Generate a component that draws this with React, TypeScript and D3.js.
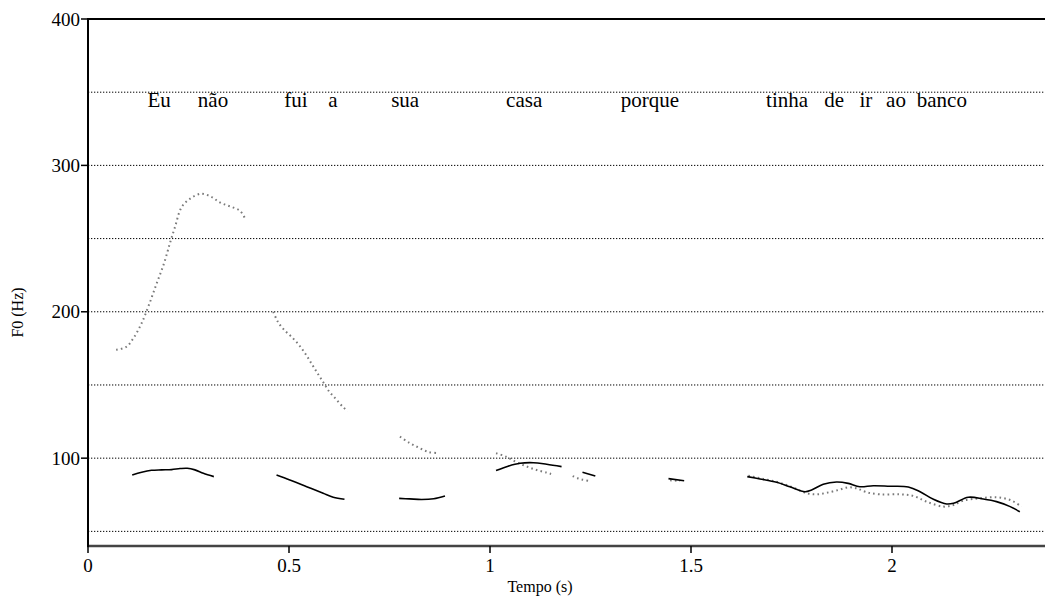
import React from "react";
import * as d3 from "d3";

type Pt = [number, number];

const yTicks = [100, 200, 300, 400];
const gridValues = [50, 100, 150, 200, 250, 300, 350];
const xTicks = [0, 0.5, 1, 1.5, 2];
const xTickLabels = ["0", "0.5", "1", "1.5", "2"];

const words = ["Eu", "não", "fui", "a", "sua", "casa", "porque", "tinha", "de", "ir", "ao", "banco"];
const wordTimes = [0.177, 0.311, 0.517, 0.609, 0.789, 1.085, 1.398, 1.739, 1.856, 1.935, 2.01, 2.124];
const wordF0 = 340;

// dotted (grey) contour
const dotted1: Pt[] = [[0.07,174],[0.095,176],[0.113,182],[0.133,192],[0.152,205],[0.171,219.5],[0.189,233],[0.204,247],[0.2165,258],[0.233,271.5],[0.256,277.6],[0.281,280.6],[0.305,278.8],[0.328,274.7],[0.353,272],[0.378,269],[0.392,263]];
const dotted2: Pt[] = [[0.461,200],[0.472,193.3],[0.488,187.6],[0.508,182.4],[0.526,176.9],[0.5415,171],[0.5565,164.4],[0.5705,158.2],[0.5853,151.9],[0.5995,145.7],[0.617,140.3],[0.635,134.8],[0.646,132.1]];
const dotted3: Pt[] = [[0.776,114.7],[0.7985,110.6],[0.8226,107.2],[0.8475,104.2],[0.874,103.4]];
const dotted4: Pt[] = [[1.015,103.4],[1.04,101],[1.065,97.4],[1.0895,94.5],[1.116,91.9],[1.141,90.1],[1.152,89.2]];
const dotted5: Pt[] = [[1.2057,87.8],[1.218,86.3],[1.2306,85.3],[1.2445,84.6]];
const dotted6: Pt[] = [[1.448,84.9],[1.473,84.4]];
const dotted7: Pt[] = [[1.6426,88],[1.68,85.8],[1.717,83.5],[1.7545,79.9],[1.788,76],[1.813,75.3],[1.838,76.4],[1.867,78.3],[1.891,80.1],[1.912,79.4],[1.937,76.7],[1.97,75.3],[2.02,75.3],[2.053,74.2],[2.086,70.3],[2.128,66.9],[2.153,68],[2.178,71],[2.219,72.6],[2.26,73.3],[2.294,71.4],[2.3226,66.9]];

// solid (black) contour
const solid1: Pt[] = [[0.11,88.5],[0.1335,90.4],[0.158,91.7],[0.183,92],[0.208,92.2],[0.229,92.9],[0.247,93.1],[0.266,92],[0.287,89.7],[0.313,87.4]];
const solid2: Pt[] = [[0.469,88.5],[0.502,85.1],[0.544,80.5],[0.585,76],[0.61,73.3],[0.638,71.9]];
const solid3: Pt[] = [[0.774,72.5],[0.8,72.2],[0.83,71.8],[0.86,72.3],[0.888,74.2]];
const solid4: Pt[] = [[1.015,91.5],[1.045,94.5],[1.0746,96.5],[1.108,96.9],[1.141,95.8],[1.178,94.2]];
const solid5: Pt[] = [[1.23,90.4],[1.262,87.8]];
const solid6: Pt[] = [[1.444,86],[1.483,84.6]];
const solid7: Pt[] = [[1.64,87.4],[1.6716,85.8],[1.713,83.5],[1.746,80.5],[1.7836,77.1],[1.8,78.3],[1.829,82.2],[1.862,83.7],[1.891,82.8],[1.92,80.5],[1.9535,81.2],[1.995,80.8],[2.0406,80.3],[2.07,77.1],[2.103,71.9],[2.136,68.7],[2.153,69.2],[2.19,73.3],[2.227,72.1],[2.26,70.3],[2.294,66.9],[2.318,63.4]];

const dottedSegments = [dotted1, dotted2, dotted3, dotted4, dotted5, dotted6, dotted7];
const solidSegments = [solid1, solid2, solid3, solid4, solid5, solid6, solid7];

const W = 1045;
const H = 599;
const left = 88;
const top = 19;
const bottom = 546;
const FONT = "'Liberation Serif', 'Times New Roman', Times, serif";

export default function App() {
  const x = d3.scaleLinear().domain([0, 1]).range([left, left + 402]);
  const y = d3.scaleLinear().domain([40, 400]).range([bottom, top]);
  const line = d3
    .line<Pt>()
    .x((d) => x(d[0]))
    .y((d) => y(d[1]))
    .curve(d3.curveCatmullRom.alpha(0.5));
  const ts = { fontFamily: FONT } as React.CSSProperties;

  return (
    <svg
      width={W}
      height={H}
      style={{ position: "absolute", left: 0, top: 0, background: "#fff" }}
    >
      {gridValues.map((g) => (
        <line
          key={"g" + g}
          x1={left}
          x2={W}
          y1={y(g)}
          y2={y(g)}
          stroke="#000"
          strokeWidth={1}
          strokeDasharray="1.3,1.7"
        />
      ))}
      <line x1={left} x2={W} y1={top} y2={top} stroke="#000" strokeWidth={2} />
      <line x1={left - 1} x2={W} y1={bottom} y2={bottom} stroke="#444" strokeWidth={2.5} />
      <line x1={left} x2={left} y1={top - 1} y2={bottom + 1} stroke="#000" strokeWidth={2} />

      {yTicks.map((t) => (
        <g key={"yt" + t}>
          <line x1={left - 7} x2={left} y1={y(t)} y2={y(t)} stroke="#000" strokeWidth={1.5} />
          <text x={left - 8} y={y(t)} dy="0.35em" textAnchor="end" fontSize={19} style={ts}>
            {t}
          </text>
        </g>
      ))}
      {xTicks.map((t, i) => (
        <g key={"xt" + t}>
          <line x1={x(t)} x2={x(t)} y1={bottom} y2={bottom + 7} stroke="#000" strokeWidth={1.5} />
          <text x={x(t)} y={572} textAnchor="middle" fontSize={19} style={ts}>
            {xTickLabels[i]}
          </text>
        </g>
      ))}

      <text x={540} y={592} textAnchor="middle" fontSize={16} style={ts}>
        Tempo (s)
      </text>
      <text
        transform={`translate(23, ${(top + bottom) / 2 + 30}) rotate(-90)`}
        textAnchor="middle"
        fontSize={16}
        style={ts}
      >
        F0 (Hz)
      </text>

      {words.map((w, i) => (
        <text
          key={"w" + i}
          x={x(wordTimes[i])}
          y={y(wordF0)}
          textAnchor="middle"
          fontSize={21}
          style={ts}
        >
          {w}
        </text>
      ))}

      {dottedSegments.map((seg, i) => (
        <path
          key={"d" + i}
          d={line(seg) || ""}
          fill="none"
          stroke="#7a7a7a"
          strokeWidth={2}
          strokeDasharray="1.6,3.2"
        />
      ))}
      {solidSegments.map((seg, i) => (
        <path key={"s" + i} d={line(seg) || ""} fill="none" stroke="#000" strokeWidth={1.6} />
      ))}
    </svg>
  );
}
